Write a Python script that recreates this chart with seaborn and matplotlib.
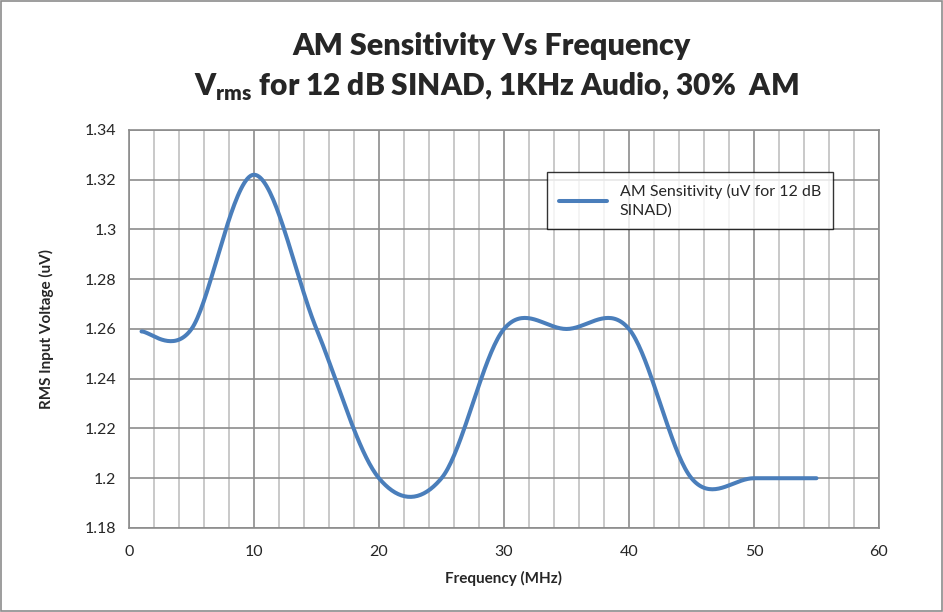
import numpy as np
import pandas as pd
import matplotlib
matplotlib.use("Agg")
import matplotlib.pyplot as plt
import seaborn as sns
from matplotlib.patches import Rectangle

"""
Data read off the chart
"""
freq_mhz = [1, 5, 10, 15, 20, 25, 30, 35, 40, 45, 50, 55]
sensitivity_uv = [1.259, 1.26, 1.322, 1.26, 1.20, 1.20, 1.26, 1.26, 1.26, 1.20, 1.20, 1.20]
series_name = "AM Sensitivity (uV for 12 dB\nSINAD)"
y_ticks = [1.18, 1.20, 1.22, 1.24, 1.26, 1.28, 1.30, 1.32, 1.34]
y_tick_labels = ["1.18", "1.2", "1.22", "1.24", "1.26", "1.28", "1.3", "1.32", "1.34"]
x_ticks = [0, 10, 20, 30, 40, 50, 60]

"""
Smoothed line like Excel (Bezier segments through each point)
"""
def smooth_line(xs, ys, steps=40):
    p = np.column_stack([xs, ys]).astype(float)
    p = np.vstack([p[0], p, p[-1]])
    out = []
    for i in range(1, len(p) - 2):
        b0 = p[i]
        b1 = p[i] + (p[i + 1] - p[i - 1]) / 6
        b2 = p[i + 1] - (p[i + 2] - p[i]) / 6
        b3 = p[i + 1]
        t = np.linspace(0, 1, steps)[:, None]
        seg = ((1 - t) ** 3) * b0 + 3 * ((1 - t) ** 2) * t * b1 + 3 * (1 - t) * t ** 2 * b2 + t ** 3 * b3
        out.append(seg if i == 1 else seg[1:])
    out = np.vstack(out)
    return out[:, 0], out[:, 1]

sx, sy = smooth_line(freq_mhz, sensitivity_uv)
df = pd.DataFrame({"Frequency (MHz)": sx, "RMS Input Voltage (uV)": sy, "series": series_name})

"""
Plot
"""
sns.set_style("white")
plt.rcParams["font.family"] = ["Lato", "DejaVu Sans"]
plt.rcParams["mathtext.fontset"] = "custom"
plt.rcParams["mathtext.rm"] = "Lato"
plt.rcParams["mathtext.bf"] = "Lato:heavy"

fig = plt.figure(figsize=(9.43, 6.12), dpi=100)
ax = fig.add_axes([0.1368, 0.1373, 0.7953, 0.6503])

# gridlines: light every 2 MHz, darker every 10 MHz
for xv in np.arange(2, 60, 2):
    if xv % 10 != 0:
        ax.axvline(xv, color="#c0c0c0", lw=1.2, zorder=0)
for xv in x_ticks:
    ax.axvline(xv, color="#8c8c8c", lw=1.2, zorder=0)
for yv in y_ticks:
    ax.axhline(yv, color="#8c8c8c", lw=1.2, zorder=0)

sns.lineplot(data=df, x="Frequency (MHz)", y="RMS Input Voltage (uV)", hue="series",
             palette=["#4a7ebb"], sort=False, estimator=None, lw=2.9, ax=ax,
             solid_capstyle="round")

ax.set_xlim(0, 60)
ax.set_ylim(1.18, 1.34)
ax.set_xticks(x_ticks)
ax.set_yticks(y_ticks)
ax.set_yticklabels(y_tick_labels)
ax.tick_params(axis="both", labelsize=11.5, length=5, width=1.2, color="#8c8c8c", pad=4)
ax.tick_params(axis="x", pad=7)
for s in ax.spines.values():
    s.set_color("#8c8c8c")
    s.set_linewidth(1.2)

ax.set_xlabel("Frequency (MHz)", fontsize=11, fontweight="bold", labelpad=9)
ax.set_ylabel("RMS Input Voltage (uV)", fontsize=11, fontweight="bold", labelpad=22)

fig.text(0.521, 0.925, "AM Sensitivity Vs Frequency", ha="center", va="center",
         fontsize=22, fontweight="heavy")
fig.text(0.526, 0.858, r"V$_{\mathbf{rms}}$ for 12 dB SINAD, 1KHz Audio, 30%  AM", ha="center",
         va="center", fontsize=21.5, fontweight="heavy")

leg = ax.legend(loc="upper left", bbox_to_anchor=(547 / 943, 1 - 172 / 612),
                bbox_transform=fig.transFigure, frameon=True, fancybox=False,
                fontsize=11.5, handlelength=3.0, borderpad=0.75, borderaxespad=0,
                title=None)
leg.get_frame().set_edgecolor("black")
leg.get_frame().set_linewidth(1.0)
for txt in leg.get_texts():
    txt.set_linespacing(1.35)

# chart area border
fig.patches.append(Rectangle((0.001, 0.001), 0.998, 0.997, transform=fig.transFigure,
                             fill=False, edgecolor="#8c8c8c", lw=1.2))

plt.savefig("out.png", dpi=100)
print("saved")
